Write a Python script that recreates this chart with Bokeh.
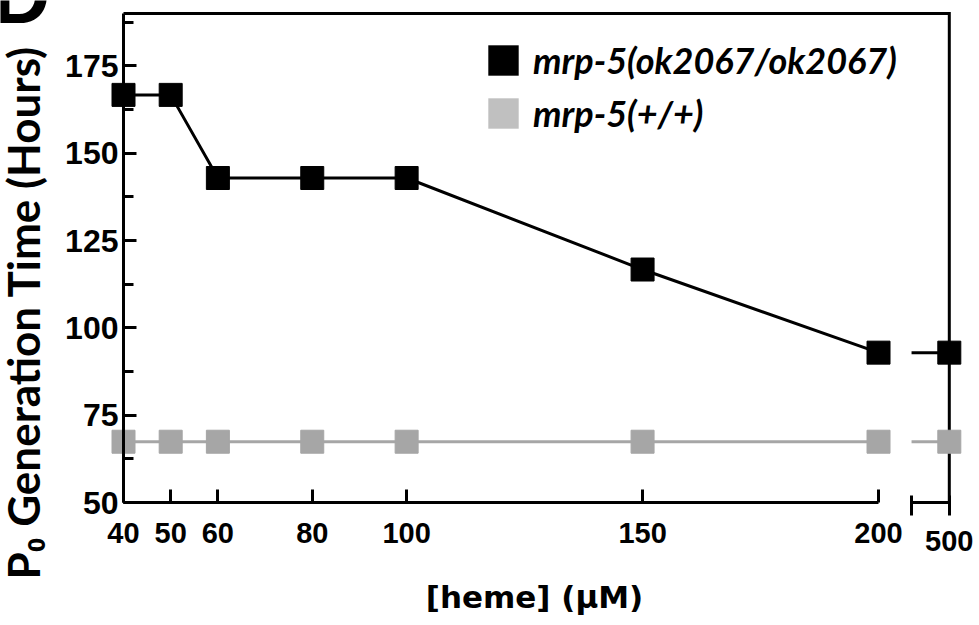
from math import pi

import numpy as np
from bokeh.embed import file_html
from bokeh.models import (FixedTicker, Label, Legend, LegendItem, LinearAxis,
                          Range1d, SingleIntervalTicker)
from bokeh.plotting import figure
from bokeh.resources import INLINE

# ---- data -------------------------------------------------------------
heme_um = [40, 50, 60, 80, 100, 150, 200, 500]
mutant_hours = [166.7, 166.7, 142.9, 142.9, 142.9, 116.7, 92.9, 92.9]
wildtype_hours = [67.4, 67.4, 67.4, 67.4, 67.4, 67.4, 67.4, 67.4]
x_tick_values = [40, 50, 60, 80, 100, 150, 200]
tail_tick_label = "500"
series_labels = ["mrp-5(ok2067/ok2067)", "mrp-5(+/+)"]

# ---- broken x axis: concentrations above 200 sit just after a short gap --
AXIS_BREAK = 200
GAP_START = 207
TAIL_POS = 215
X_MIN = 40
Y_MIN, Y_MAX = 50, 190


def axis_pos(c):
    return c if c <= AXIS_BREAK else TAIL_POS


xs = [axis_pos(c) for c in heme_um]
head = [i for i, c in enumerate(heme_um) if c <= AXIS_BREAK]
tail = [i for i, c in enumerate(heme_um) if c > AXIS_BREAK]

BLACK = "#000000"
GREY = "#a6a6a6"
GREY_LEGEND = "#c0c0c0"

# the frame fills the whole canvas; axes are pinned with fixed_location
p = figure(width=979, height=625, output_backend="svg", toolbar_location=None,
           x_range=Range1d(13.934, 221.40), y_range=Range1d(14.786, 193.72),
           min_border=0)
p.outline_line_color = None
p.xgrid.visible = False
p.ygrid.visible = False
p.background_fill_color = "white"
p.border_fill_color = "white"

tick_font = "Liberation Sans"


def style_axis(ax, size):
    ax.axis_line_color = BLACK
    ax.axis_line_width = 3
    ax.major_tick_line_width = 3
    ax.minor_tick_line_width = 3
    ax.major_tick_line_color = BLACK
    ax.major_label_text_font = tick_font
    ax.major_label_text_font_style = "bold"
    ax.major_label_text_font_size = size
    ax.major_label_text_color = BLACK


yax = p.yaxis[0]
style_axis(yax, "32px")
yax.fixed_location = X_MIN
yax.bounds = (Y_MIN, Y_MAX)
yax.ticker = SingleIntervalTicker(interval=25, num_minor_ticks=2)
yax.major_tick_in = 13
yax.major_tick_out = 0
yax.minor_tick_in = 10
yax.minor_tick_out = 0
yax.minor_tick_line_color = BLACK
yax.major_label_standoff = 5

xax = p.xaxis[0]
style_axis(xax, "29px")
xax.fixed_location = Y_MIN
xax.bounds = (X_MIN, AXIS_BREAK)
xax.ticker = FixedTicker(ticks=x_tick_values)
xax.major_tick_in = 13
xax.major_tick_out = 0
xax.minor_tick_line_color = None
xax.major_label_standoff = 20

tail_axis = LinearAxis(fixed_location=Y_MIN, bounds=(GAP_START, TAIL_POS),
                       ticker=FixedTicker(ticks=[GAP_START, TAIL_POS]),
                       major_label_overrides={GAP_START: "", TAIL_POS: tail_tick_label})
style_axis(tail_axis, "29px")
tail_axis.major_tick_in = 7
tail_axis.major_tick_out = 13
tail_axis.minor_tick_line_color = None
tail_axis.major_label_standoff = 15
p.add_layout(tail_axis, "below")

# top and right edges of the frame box
p.line([X_MIN, TAIL_POS, TAIL_POS], [Y_MAX, Y_MAX, Y_MIN],
       line_color=BLACK, line_width=3, line_join="miter")

# ---- series -------------------------------------------------------------
for ys, color in ((wildtype_hours, GREY), (mutant_hours, BLACK)):
    p.line([xs[i] for i in head], [ys[i] for i in head], line_color=color, line_width=3)
    for i in tail:
        p.line([GAP_START, xs[i]], [ys[i], ys[i]], line_color=color, line_width=3)
    p.scatter(xs, ys, marker="square", size=23, fill_color=color, line_color=color)

# legend swatches (plain squares with no visible data)
nan = np.array([np.nan])
sw_black = p.quad(left=nan, right=nan, top=nan, bottom=nan, fill_color=BLACK, line_color=None)
sw_grey = p.quad(left=nan, right=nan, top=nan, bottom=nan, fill_color=GREY_LEGEND, line_color=None)
legend = Legend(items=[LegendItem(label=series_labels[0], renderers=[sw_black]),
                       LegendItem(label=series_labels[1], renderers=[sw_grey])],
                location=(484, 490), orientation="vertical",
                glyph_width=38, glyph_height=38, label_standoff=11, spacing=9,
                padding=0, margin=0, border_line_color=None,
                background_fill_alpha=0,
                label_text_font="Lato", label_text_font_style="bold italic",
                label_text_font_size="36px", label_text_color=BLACK)
p.add_layout(legend, "center")

# ---- titles ---------------------------------------------------------------
p.add_layout(Label(x=534, y=29, x_units="screen", y_units="screen",
                   text="[heme] (μM)", text_align="center", text_baseline="middle",
                   text_font="DejaVu Sans", text_font_style="bold",
                   text_font_size="31px", text_color=BLACK))
p.add_layout(Label(x=22, y=313, x_units="screen", y_units="screen", angle=pi / 2,
                   text="P₀ Generation Time (Hours)", text_align="center",
                   text_baseline="middle", text_font="Lato",
                   text_font_style="bold", text_font_size="44px", text_color=BLACK))
p.add_layout(Label(x=-8, y=630, x_units="screen", y_units="screen",
                   text="D", text_align="left", text_baseline="alphabetic",
                   text_font="Liberation Sans", text_font_style="bold",
                   text_font_size="80px", text_color=BLACK))

open("out.html", "w").write(file_html(p, INLINE))
